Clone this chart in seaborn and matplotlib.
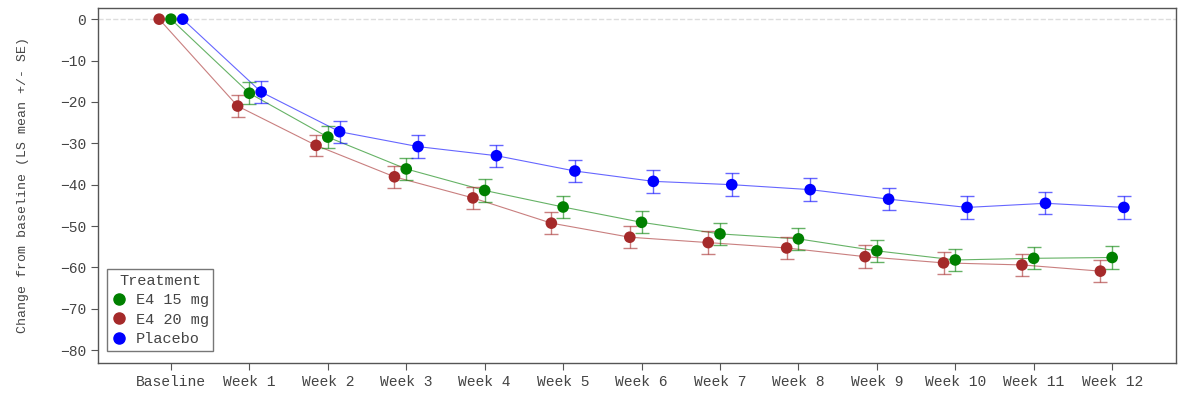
import numpy as np
import pandas as pd
import matplotlib
matplotlib.use("Agg")
import matplotlib.pyplot as plt
import seaborn as sns
from matplotlib.lines import Line2D

visits = ["Baseline", "Week 1", "Week 2", "Week 3", "Week 4", "Week 5", "Week 6",
          "Week 7", "Week 8", "Week 9", "Week 10", "Week 11", "Week 12"]
treatments = ["E4 15 mg", "E4 20 mg", "Placebo"]
mean_e4_15 = [0, -17.9, -28.5, -36.2, -41.4, -45.4, -49.1, -51.9, -53.1, -56.0, -58.2, -57.8, -57.6]
se_e4_15 = [0, 2.6, 2.6, 2.7, 2.7, 2.7, 2.7, 2.7, 2.7, 2.7, 2.7, 2.7, 2.7]
mean_e4_20 = [0, -21.0, -30.5, -38.1, -43.2, -49.3, -52.7, -54.0, -55.3, -57.4, -58.9, -59.4, -60.9]
se_e4_20 = [0, 2.6, 2.6, 2.7, 2.7, 2.7, 2.7, 2.7, 2.7, 2.7, 2.7, 2.7, 2.7]
mean_placebo = [0, -17.6, -27.2, -30.8, -33.0, -36.7, -39.2, -40.0, -41.2, -43.5, -45.5, -44.5, -45.5]
se_placebo = [0, 2.6, 2.7, 2.7, 2.7, 2.7, 2.7, 2.7, 2.7, 2.7, 2.7, 2.7, 2.7]

colors = {"E4 15 mg": "#008000", "E4 20 mg": "#A52A2A", "Placebo": "#0000FF"}
offsets = {"E4 15 mg": 0.0, "E4 20 mg": -0.15, "Placebo": 0.15}

rows = []
for t, m, s in zip(treatments, [mean_e4_15, mean_e4_20, mean_placebo],
                   [se_e4_15, se_e4_20, se_placebo]):
    for i, (v, mv, sv) in enumerate(zip(visits, m, s)):
        rows.append({"Treatment": t, "visit": v, "pos": i + offsets[t], "mean": mv, "se": sv})
df = pd.DataFrame(rows)

sns.set_style("white")
plt.rcParams["font.family"] = ["Liberation Mono", "DejaVu Sans Mono"]

fig = plt.figure(figsize=(11.78, 3.94), dpi=100)
ax = fig.add_axes([0.0832, 0.0787, 0.9155, 0.901])

ax.axhline(0, color="#dddddd", lw=1, ls="--", zorder=0)

sns.lineplot(data=df, x="pos", y="mean", hue="Treatment", palette=colors,
             hue_order=treatments, linewidth=0.8, alpha=0.6, ax=ax, legend=False, zorder=2)
sns.scatterplot(data=df, x="pos", y="mean", hue="Treatment", palette=colors,
                hue_order=treatments, s=70, linewidth=0, ax=ax, legend=False, zorder=4)

for t in treatments:
    sub = df[(df["Treatment"] == t) & (df["visit"] != "Baseline")]
    ax.errorbar(sub["pos"], sub["mean"], yerr=sub["se"], fmt="none",
                ecolor=colors[t], elinewidth=1, capsize=5, capthick=1, alpha=0.6, zorder=3)

handles = [Line2D([], [], marker="o", color=colors[t], ls="none", markersize=8) for t in treatments]
leg = ax.legend(handles, treatments, title="Treatment", loc="lower left",
                bbox_to_anchor=(0.008, 0.035), frameon=True, fancybox=False,
                handletextpad=0.6, borderpad=0.3, labelspacing=0.35, handlelength=1.0,
                borderaxespad=0, prop={"size": 11}, title_fontsize=11)
leg.get_frame().set_edgecolor("#555555")
leg.get_frame().set_linewidth(1)
for txt in leg.get_texts():
    txt.set_color("#444444")
leg.get_title().set_color("#444444")

ax.set_xticks(range(len(visits)))
ax.set_xticklabels(visits, fontsize=10.5, color="#444444")
ax.set_xlim(-0.93, 12.82)
ax.set_ylim(-83.1, 2.7)
ax.set_yticks(np.arange(-80, 1, 10))
ax.tick_params(axis="y", labelsize=10.5, labelcolor="#444444")
ax.tick_params(axis="both", direction="out", length=5, width=0.8, color="#555555", bottom=True, left=True)
ax.set_xlabel("")
ax.set_ylabel("Change from baseline (LS mean +/- SE)", fontsize=9.5, color="#444444", labelpad=22)
for sp in ax.spines.values():
    sp.set_color("#555555")
    sp.set_linewidth(1)

fig.savefig("out.png", dpi=100)
